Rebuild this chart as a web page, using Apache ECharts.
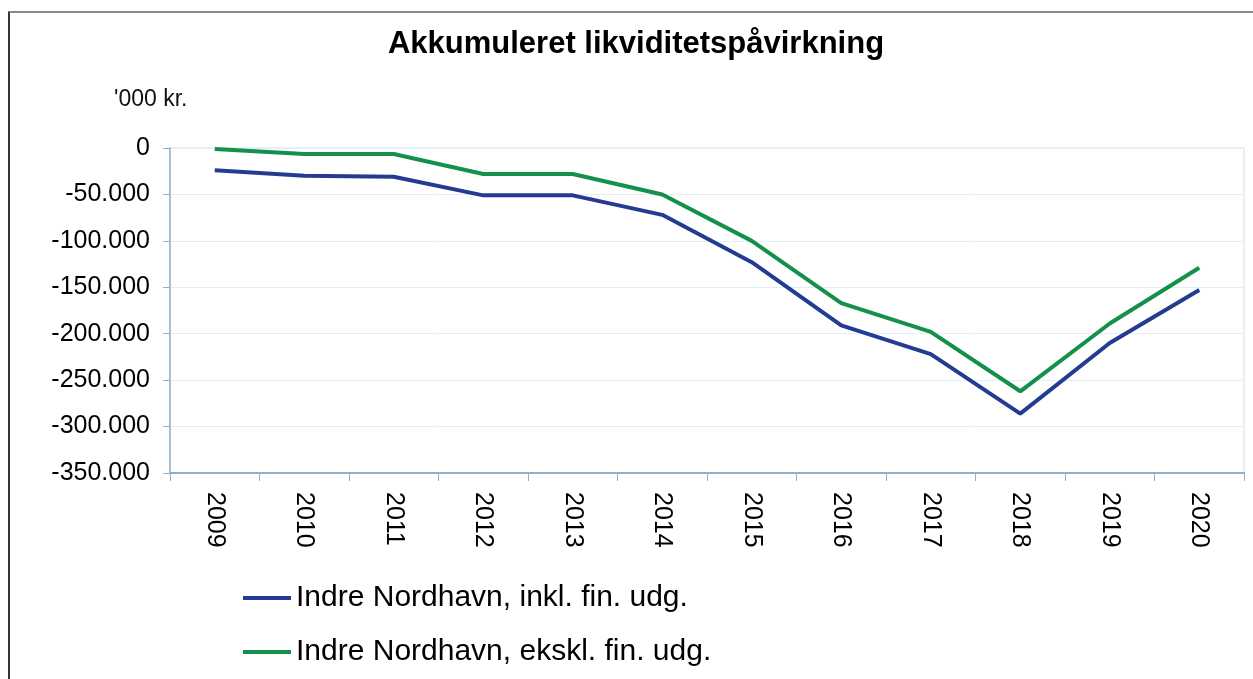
<!DOCTYPE html>
<html>
<head>
<meta charset="utf-8">
<script src="https://cdn.jsdelivr.net/npm/echarts@6/dist/echarts.min.js"></script>
<style>
  html, body { margin: 0; padding: 0; background: #fff; }
  #frame {
    position: absolute; left: 8px; top: 11px; width: 1260px; height: 700px;
    border-left: 2px solid #333; border-top: 2px solid #888; box-sizing: border-box;
  }
  #main { position: absolute; left: 0; top: 0; width: 1253px; height: 679px; }
</style>
</head>
<body>
<div id="frame"></div>
<div id="main"></div>
<script>
// år
const years = ['2009', '2010', '2011', '2012', '2013', '2014', '2015', '2016', '2017', '2018', '2019', '2020'];
// akkumuleret, '000 kr.
const inklFin = [-24000, -30000, -31000, -51000, -51000, -72000, -123000, -191000, -222000, -286000, -210000, -153000];
const ekslFin = [-1000, -6500, -6500, -28000, -28000, -50000, -100000, -167000, -198000, -262000, -189000, -129000];

const font = 'Arial, "Liberation Sans", sans-serif';

const chart = echarts.init(document.getElementById('main'));
const option = {
  animation: false,
  textStyle: { fontFamily: font },
  title: {
    text: 'Akkumuleret likviditetspåvirkning',
    left: 631, top: 24, textAlign: 'center',
    textStyle: { fontSize: 31, fontWeight: 'bold', color: '#000', fontFamily: font }
  },
  graphic: [{
    type: 'text', left: 114, top: 88,
    style: { text: "'000 kr.", fontSize: 23, fill: '#111', fontFamily: font }
  }],
  grid: {
    left: 170, right: 9, top: 148, bottom: 206,
    show: true, borderColor: '#cfe0ec', borderWidth: 1, backgroundColor: '#fff'
  },
  legend: {
    orient: 'vertical', left: 238, top: 578,
    itemWidth: 48, itemHeight: 4, itemGap: 24, icon: 'rect',
    textStyle: { fontSize: 30, color: '#000', fontFamily: font, padding: [0, 0, 0, 0] },
    data: ['Indre Nordhavn, inkl. fin. udg.', 'Indre Nordhavn, ekskl. fin. udg.']
  },
  xAxis: {
    type: 'category', data: years, boundaryGap: true,
    axisLine: { onZero: false, lineStyle: { color: '#8db1cc', width: 2 } },
    axisTick: { show: true, length: 8, lineStyle: { color: '#8db1cc' } },
    axisLabel: { rotate: -90, margin: 19, fontSize: 25, color: '#000', fontFamily: font },
    splitLine: { show: false }
  },
  yAxis: {
    type: 'value', min: -350000, max: 0, interval: 50000,
    axisLine: { show: true, lineStyle: { color: '#8db1cc', width: 1.5 } },
    axisTick: { show: true, length: 7, lineStyle: { color: '#8db1cc' } },
    axisLabel: {
      fontSize: 25, color: '#000', margin: 20, fontFamily: font,
      formatter: v => v === 0 ? '0' : (v / 1000).toFixed(0) + '.000'
    },
    splitLine: { lineStyle: { color: '#e3eff7', width: 1 } }
  },
  series: [
    {
      name: 'Indre Nordhavn, inkl. fin. udg.', type: 'line', data: inklFin,
      symbol: 'none', lineStyle: { color: '#233c91', width: 4 }, itemStyle: { color: '#233c91' }
    },
    {
      name: 'Indre Nordhavn, ekskl. fin. udg.', type: 'line', data: ekslFin,
      symbol: 'none', lineStyle: { color: '#14904a', width: 4 }, itemStyle: { color: '#14904a' }
    }
  ]
};
chart.setOption(option);
window.addEventListener('resize', function () { chart.resize(); });
</script>
</body>
</html>
